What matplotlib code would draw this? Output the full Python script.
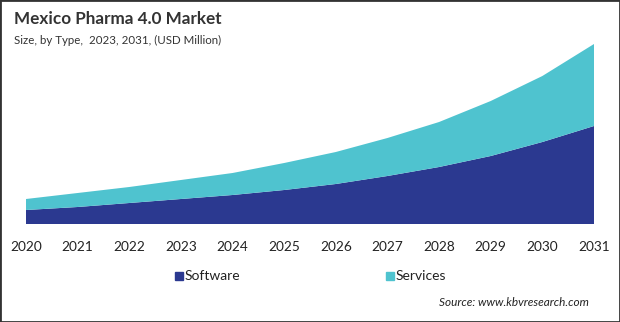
import matplotlib.pyplot as plt
from matplotlib.patches import Rectangle

years = [2020, 2021, 2022, 2023, 2024, 2025, 2026, 2027, 2028, 2029, 2030, 2031]
software = [14, 17, 21, 25, 29, 34, 40, 48, 57, 68, 82, 98]
services = [11, 14, 16, 19, 22, 27, 32, 38, 45, 55, 66, 82]

SOFTWARE_COLOR = "#2B3990"
SERVICES_COLOR = "#4FC3CF"

plt.rcParams["font.family"] = ["Lato", "DejaVu Sans"]

fig = plt.figure(figsize=(6.2, 3.22), dpi=100)
ax = fig.add_axes([26 / 620, 1 - 224 / 322, (594 - 26) / 620, 180 / 322])

ax.stackplot(years, software, services, colors=[SOFTWARE_COLOR, SERVICES_COLOR],
             linewidth=0)
ax.set_xlim(years[0], years[-1])
ax.set_ylim(0, 180)
ax.set_yticks([])
ax.set_xticks(years)
ax.set_xticklabels([str(y) for y in years], fontsize=9.8, color="#222222")
ax.tick_params(axis="x", length=0, pad=12)
for s in ax.spines.values():
    s.set_visible(False)

fig.text(14 / 620, 1 - 19 / 322, "Mexico Pharma 4.0 Market", fontsize=12.3,
         fontweight="bold", color="#333333", va="center", ha="left")
fig.text(14 / 620, 1 - 40 / 322, "Size, by Type,  2023, 2031, (USD Million)",
         fontsize=8.3, color="#333333", va="center", ha="left")

# legend squares and labels
for x0, label, color in [(175, "Software", SOFTWARE_COLOR), (386, "Services", SERVICES_COLOR)]:
    fig.patches.append(Rectangle((x0 / 620, 1 - 280 / 322), 8 / 620, 8 / 322,
                                 transform=fig.transFigure, color=color))
    fig.text((x0 + 10) / 620, 1 - 276 / 322, label, fontsize=10, color="#222222",
             va="center", ha="left")

fig.text(589 / 620, 1 - 303 / 322, "Source: www.kbvresearch.com", fontsize=8.5,
         style="italic", color="#222222", va="center", ha="right")

# outer frame
fig.patches.append(Rectangle((0, 0), 1, 1, transform=fig.transFigure, fill=False,
                             edgecolor="#333333", linewidth=2))

fig.savefig("out.png", dpi=100)
